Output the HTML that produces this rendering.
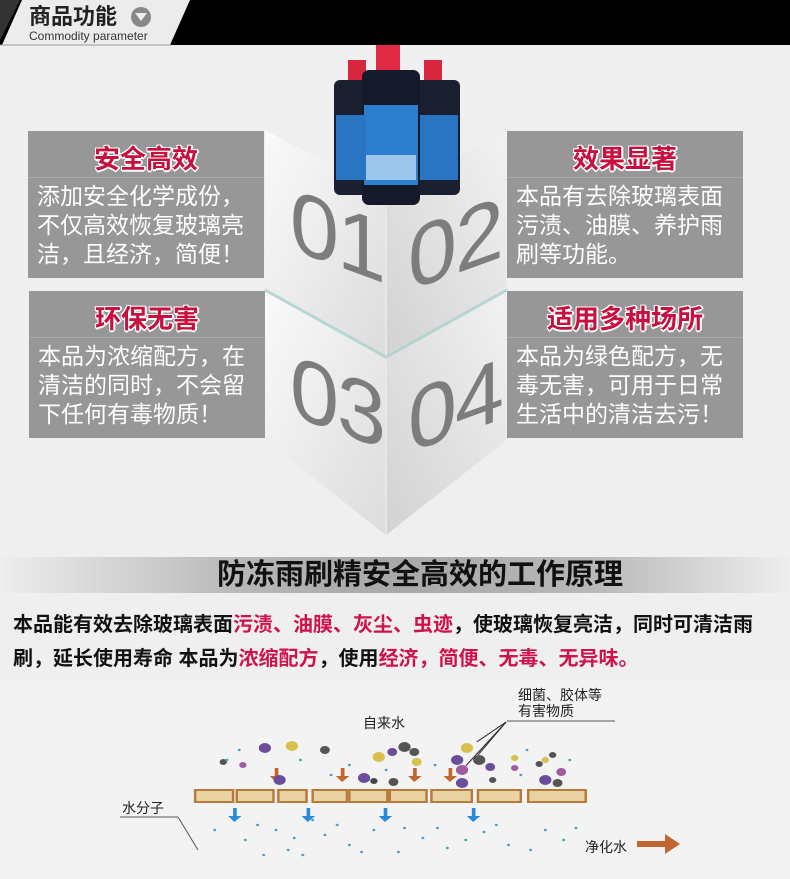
<!DOCTYPE html>
<html><head><meta charset="utf-8"><style>
*{margin:0;padding:0;box-sizing:border-box}
body{width:790px;height:879px;background:#efefef;position:relative;overflow:hidden;font-family:"Liberation Sans","Noto Sans CJK SC",sans-serif}
.abs{position:absolute}
.card{position:absolute;background:#979797;width:236px;height:147px}
.card .t{position:absolute;left:0;right:0;top:12px;line-height:32px;text-align:center;font-size:26px;font-weight:bold;color:#c8103f;text-shadow:-1px -1px 0 #fff,1px -1px 0 #fff,-1px 1px 0 #fff,1px 1px 0 #fff,0 2px 0 #fff,2px 0 0 #fff}
.card .l{position:absolute;left:0;right:0;top:46px;height:1px;background:#aaa}
.card .b{position:absolute;left:9px;top:51px;font-size:23px;line-height:29px;color:#fff;white-space:nowrap}
.num{position:absolute;font-family:"Liberation Sans",sans-serif;font-size:88px;color:#7d7d7d;letter-spacing:-2px;line-height:1}
.p{position:absolute;left:13px;font-size:20px;line-height:24px;font-weight:bold;color:#111;white-space:nowrap}
.r{color:#d0124a}
</style></head><body>
<div class="abs" style="left:0;top:0;width:790px;height:45px;background:#000"></div>
<svg class="abs" style="left:0;top:0" width="200" height="46"><polygon points="0,0 20,0 0,40" fill="#333"/><polygon points="22,0 190,0 170,45 2,45" fill="#ececec"/><line x1="0" y1="45" x2="172" y2="45" stroke="#999"/></svg>
<div class="abs" style="left:29px;top:4px;font-size:22px;line-height:26px;font-weight:bold;color:#222">商品功能</div>
<div class="abs" style="left:131px;top:7px;width:20px;height:20px;border-radius:50%;background:#888"></div>
<div class="abs" style="left:135px;top:13px;width:0;height:0;border-left:6px solid transparent;border-right:6px solid transparent;border-top:8px solid #eee"></div>
<div class="abs" style="left:29px;top:30px;font-size:12px;line-height:13px;color:#333">Commodity parameter</div>

<svg class="abs" style="left:0;top:0" width="790" height="560">
<defs>
<linearGradient id="gl" x1="0" y1="0" x2="1" y2="1"><stop offset="0" stop-color="#fafafa"/><stop offset="1" stop-color="#dcdcdc"/></linearGradient>
<linearGradient id="gr" x1="1" y1="0" x2="0" y2="1"><stop offset="0" stop-color="#f2f2f2"/><stop offset="1" stop-color="#d2d2d2"/></linearGradient>
</defs>
<polygon points="265,130 386,195 386,355 265,290" fill="url(#gl)"/>
<polygon points="507,130 386,195 386,355 507,290" fill="url(#gr)"/>
<polygon points="265,290 386,355 386,535 265,440" fill="url(#gl)"/>
<polygon points="507,290 386,355 386,535 507,440" fill="url(#gr)"/>
<line x1="386" y1="195" x2="386" y2="535" stroke="#e8e8e8" stroke-width="2"/>
<polyline points="265,290 386,357 507,290" fill="none" stroke="#a8cfcc" stroke-width="3" opacity=".8"/>
<g>
<rect x="348" y="60" width="18" height="20" fill="#d8263f"/><rect x="424" y="60" width="18" height="20" fill="#d8263f"/>
<rect x="334" y="80" width="46" height="115" rx="6" fill="#1b2030"/>
<rect x="414" y="80" width="46" height="115" rx="6" fill="#1b2030"/>
<rect x="376" y="45" width="24" height="25" fill="#e02a45"/>
<rect x="362" y="70" width="58" height="135" rx="7" fill="#141a2a"/>
<rect x="364" y="105" width="54" height="80" fill="#2e7ed0"/>
<rect x="336" y="115" width="30" height="65" fill="#2a74c4"/>
<rect x="420" y="115" width="38" height="65" fill="#2a74c4"/>
<rect x="366" y="155" width="50" height="25" fill="#9cc6ea"/>
</g>
</svg>
<div class="num" style="left:290px;top:192px;transform:skewY(20deg)">01</div>
<div class="num" style="left:408px;top:200px;transform:skewY(-20deg)">02</div>
<div class="num" style="left:290px;top:358px;transform:skewY(20deg)">03</div>
<div class="num" style="left:408px;top:362px;transform:skewY(-20deg)">04</div>

<div class="card" style="left:28px;top:131px"><div class="t">安全高效</div><div class="l"></div><div class="b">添加安全化学成份，<br>不仅高效恢复玻璃亮<br>洁，且经济，简便！</div></div>
<div class="card" style="left:507px;top:131px"><div class="t">效果显著</div><div class="l"></div><div class="b">本品有去除玻璃表面<br>污渍、油膜、养护雨<br>刷等功能。</div></div>
<div class="card" style="left:29px;top:291px"><div class="t">环保无害</div><div class="l"></div><div class="b">本品为浓缩配方，在<br>清洁的同时，不会留<br>下任何有毒物质！</div></div>
<div class="card" style="left:507px;top:291px"><div class="t">适用多种场所</div><div class="l"></div><div class="b">本品为绿色配方，无<br>毒无害，可用于日常<br>生活中的清洁去污！</div></div>

<div class="abs" style="left:0;top:557px;width:790px;height:36px;background:linear-gradient(90deg,#eee 0%,#b8b8b8 30%,#a8a8a8 50%,#b8b8b8 75%,#eee 100%)"></div>
<div class="abs" style="left:0;top:558px;width:840px;text-align:center;font-size:29px;line-height:34px;font-weight:bold;color:#111">防冻雨刷精安全高效的工作原理</div>
<div class="p" style="top:613px">本品能有效去除玻璃表面<span class="r">污渍、油膜、灰尘、虫迹</span>，使玻璃恢复亮洁，同时可清洁雨</div>
<div class="p" style="top:647px">刷，延长使用寿命 本品为<span class="r">浓缩配方</span>，使用<span class="r">经济，简便、无毒、无异味。</span></div>

<svg class="abs" style="left:0;top:680px" width="790" height="199">
<rect x="0" y="0" width="790" height="199" fill="#f3f3f3"/>
<text x="363" y="48" font-size="14" fill="#222" font-family="Noto Sans CJK SC,sans-serif">自来水</text>
<text x="518" y="20" font-size="14" fill="#222" font-family="Noto Sans CJK SC,sans-serif">细菌、胶体等</text>
<text x="518" y="36" font-size="14" fill="#222" font-family="Noto Sans CJK SC,sans-serif">有害物质</text>
<line x1="507" y1="41" x2="615" y2="41" stroke="#555"/>
<text x="122" y="133" font-size="14" fill="#222" font-family="Noto Sans CJK SC,sans-serif">水分子</text>
<line x1="120" y1="137" x2="178" y2="137" stroke="#555"/><line x1="178" y1="137" x2="198" y2="170" stroke="#555"/>
<text x="585" y="172" font-size="14" fill="#222" font-family="Noto Sans CJK SC,sans-serif">净化水</text>
<rect x="637" y="161" width="30" height="6" fill="#c0662e"/><polygon points="665,154 680,164 665,174" fill="#c0662e"/>
<g transform="translate(80,0) scale(1.2245,1) translate(-80,0)">
<line x1="428" y1="42" x2="404" y2="62" stroke="#333"/><line x1="428" y1="42" x2="405" y2="75" stroke="#333"/><line x1="428" y1="42" x2="395" y2="86" stroke="#333"/>
<g fill="#e9d3a3" stroke="#b87a3a" stroke-width="2">
<rect x="174" y="110" width="31" height="12"/><rect x="208" y="110" width="30" height="12"/><rect x="242" y="110" width="23" height="12"/><rect x="270" y="110" width="28" height="12"/><rect x="300" y="110" width="31" height="12"/><rect x="333" y="110" width="30" height="12"/><rect x="367" y="110" width="33" height="12"/><rect x="405" y="110" width="35" height="12"/><rect x="446" y="110" width="47" height="12"/>
</g>
<g fill="#c0662e">
<rect x="239" y="88" width="3" height="9"/><polygon points="235,96 246,96 240,102"/>
<rect x="293" y="88" width="3" height="9"/><polygon points="289,96 300,96 294,102"/>
<rect x="352" y="88" width="3" height="9"/><polygon points="348,96 359,96 353,102"/>
<rect x="381" y="88" width="3" height="9"/><polygon points="377,96 388,96 382,102"/>
</g>
<g fill="#2a8ad8">
<rect x="205" y="128" width="3" height="9"/><polygon points="201,136 212,136 206,142"/>
<rect x="265" y="128" width="3" height="9"/><polygon points="261,136 272,136 266,142"/>
<rect x="328" y="128" width="3" height="9"/><polygon points="324,136 335,136 329,142"/>
<rect x="400" y="128" width="3" height="9"/><polygon points="396,136 407,136 401,142"/>
</g>
<g>
<circle cx="231" cy="68" r="5" fill="#6a4e9c"/><circle cx="253" cy="66" r="5" fill="#d8c04a"/><circle cx="280" cy="70" r="4" fill="#555"/><circle cx="243" cy="100" r="5" fill="#6a4e9c"/><circle cx="197" cy="82" r="3" fill="#555"/><circle cx="213" cy="85" r="3" fill="#a05ca0"/>
<circle cx="312" cy="98" r="5" fill="#6a4e9c"/><circle cx="324" cy="77" r="5" fill="#d8c04a"/><circle cx="345" cy="67" r="5" fill="#555"/><circle cx="335" cy="72" r="4" fill="#6a4e9c"/><circle cx="353" cy="72" r="4" fill="#555"/><circle cx="355" cy="82" r="4" fill="#d8c04a"/><circle cx="320" cy="101" r="3" fill="#444"/><circle cx="336" cy="102" r="4" fill="#555"/>
<circle cx="396" cy="68" r="5" fill="#d8c04a"/><circle cx="388" cy="80" r="5" fill="#6a4e9c"/><circle cx="392" cy="90" r="5" fill="#a05ca0"/><circle cx="406" cy="80" r="5" fill="#555"/><circle cx="415" cy="87" r="4" fill="#6a4e9c"/><circle cx="392" cy="103" r="5" fill="#6a4e9c"/><circle cx="417" cy="100" r="3" fill="#555"/><circle cx="435" cy="88" r="3" fill="#a05ca0"/><circle cx="435" cy="78" r="3" fill="#d8c04a"/>
<circle cx="460" cy="80" r="3" fill="#d8c04a"/><circle cx="455" cy="84" r="3" fill="#555"/><circle cx="466" cy="75" r="3" fill="#555"/><circle cx="460" cy="100" r="5" fill="#6a4e9c"/><circle cx="473" cy="92" r="4" fill="#a05ca0"/><circle cx="470" cy="103" r="4" fill="#555"/>
</g>
<g fill="#4aa2c0">
<circle cx="190" cy="150" r="1.2"/><circle cx="215" cy="160" r="1.2"/><circle cx="240" cy="150" r="1.2"/><circle cx="250" cy="170" r="1.2"/><circle cx="280" cy="155" r="1.2"/><circle cx="300" cy="165" r="1.2"/><circle cx="320" cy="150" r="1.2"/><circle cx="340" cy="172" r="1.2"/><circle cx="360" cy="158" r="1.2"/><circle cx="380" cy="168" r="1.2"/><circle cx="410" cy="152" r="1.2"/><circle cx="430" cy="165" r="1.2"/><circle cx="460" cy="150" r="1.2"/><circle cx="270" cy="140" r="1.2"/><circle cx="230" cy="175" r="1.2"/><circle cx="200" cy="80" r="1.2"/><circle cx="300" cy="85" r="1.2"/><circle cx="370" cy="85" r="1.2"/><circle cx="440" cy="95" r="1.2"/>
<circle cx="225" cy="145" r="1.2"/><circle cx="255" cy="158" r="1.2"/><circle cx="262" cy="175" r="1.2"/><circle cx="290" cy="145" r="1.2"/><circle cx="310" cy="172" r="1.2"/><circle cx="345" cy="148" r="1.2"/><circle cx="372" cy="148" r="1.2"/><circle cx="395" cy="160" r="1.2"/><circle cx="420" cy="145" r="1.2"/><circle cx="448" cy="170" r="1.2"/><circle cx="475" cy="160" r="1.2"/><circle cx="485" cy="148" r="1.2"/><circle cx="210" cy="70" r="1.2"/><circle cx="260" cy="80" r="1.2"/><circle cx="285" cy="95" r="1.2"/><circle cx="330" cy="90" r="1.2"/><circle cx="445" cy="70" r="1.2"/><circle cx="480" cy="80" r="1.2"/>
</g>
</g>
</svg>
</body></html>
